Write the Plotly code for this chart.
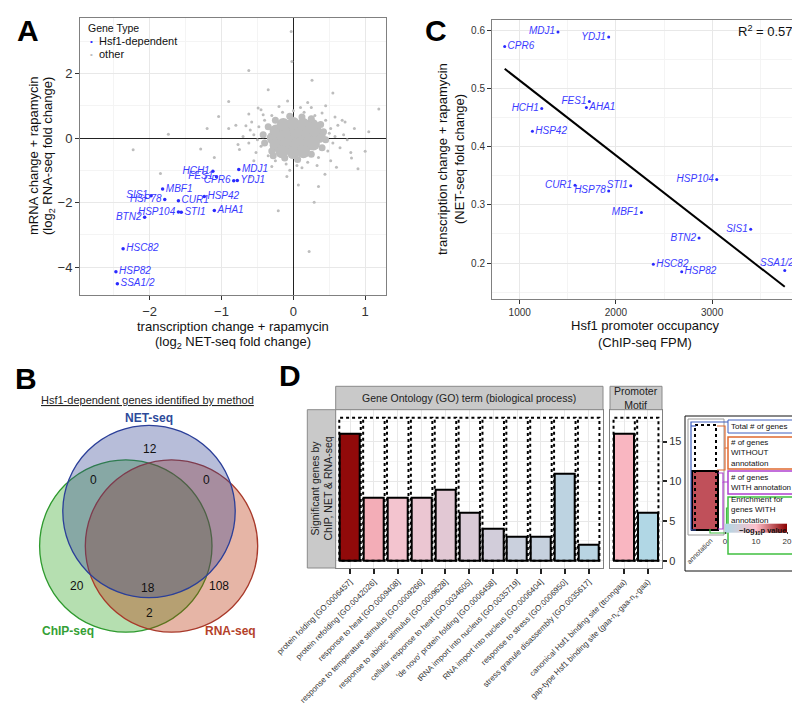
import numpy as np
import plotly.graph_objects as go

FONT = "Liberation Sans, Arial, Helvetica, sans-serif"
W, H = 800, 722

# ------------------------------------------------------------------ data
# Panel A : Hsf1-dependent genes (log2 NET-seq FC, log2 RNA-seq FC)
a_genes = ["MDJ1", "YDJ1", "CPR6", "HCH1", "FES1", "MBF1", "SIS1", "HSP78", "CUR1",
           "HSP42", "AHA1", "HSP104", "STI1", "BTN2", "HSC82", "HSP82", "SSA1/2"]
a_net = [-0.76, -0.78, -0.83, -1.12, -1.07, -1.82, -1.98, -1.79, -1.60,
         -1.24, -1.10, -1.60, -1.56, -2.07, -2.37, -2.47, -2.45]
a_rna = [-0.97, -1.31, -1.32, -1.03, -1.20, -1.58, -1.79, -1.90, -1.94,
         -1.81, -2.24, -2.29, -2.30, -2.45, -3.43, -4.14, -4.51]

# Panel A : other genes (dense core, rim, sparse halo and outliers; read approximately)
other_core_x = [-0.28, -0.14, 0.00, 0.14, 0.28, 0.36, -0.24, -0.10, 0.04, 0.18, 0.30,
                -0.24, -0.10, 0.04, 0.18, 0.28, -0.14, 0.00, 0.14, 0.26, -0.16, 0.00, 0.14]
other_core_y = [0.00, 0.00, 0.00, 0.00, 0.00, 0.05, 0.22, 0.22, 0.22, 0.22, 0.25,
                -0.22, -0.22, -0.22, -0.22, -0.18, 0.42, 0.45, 0.42, 0.40, -0.42, -0.45, -0.42]
other_rim_x = [-0.42, -0.40, -0.35, -0.30, 0.42, 0.45, 0.40, 0.38, -0.05, 0.12, -0.12,
               0.06, 0.25, -0.25, 0.25, -0.28]
other_rim_y = [0.10, -0.15, 0.35, -0.40, 0.20, -0.05, -0.30, 0.42, 0.68, 0.65, -0.62,
               -0.66, -0.50, 0.55, 0.60, -0.55]
other_halo_x = [-0.55, -0.48, -0.45, -0.50, -0.40, -0.35, -0.30, -0.25, -0.15, -0.10, 0.00,
                0.05, 0.15, 0.20, 0.30, 0.35, 0.45, 0.48, 0.52, 0.55, 0.58, 0.50, -0.60,
                -0.62, -0.42, 0.40, 0.62, 0.65, -0.58, -0.52, 0.10, -0.05, 0.25, -0.20,
                0.70, -0.70, 0.33, -0.30, 0.58, -0.45, 0.75, -0.66, 0.12, 0.68, -0.55,
                0.52, 0.85, -0.80, 0.80, -0.75, 0.20, -0.08, 0.45, 0.60, -0.62]
other_halo_y = [0.10, 0.35, -0.25, -0.05, 0.55, -0.55, 0.70, -0.70, 0.80, -0.80, 0.85,
                -0.85, 0.80, -0.75, 0.70, -0.60, 0.55, -0.40, 0.30, -0.15, 0.05, 0.15, 0.25,
                -0.15, 0.72, 0.78, 0.40, -0.30, 0.50, -0.45, 0.95, -1.00, 0.95, 0.98,
                0.10, 0.05, -0.85, -0.88, 0.65, 0.88, -0.05, 0.38, -0.92, 0.55, -0.70,
                -0.70, 0.30, 0.40, -0.45, -0.35, 1.10, 1.15, 1.00, -0.90, 0.75]
other_out_x = [-0.03, -0.02, -0.62, 0.26, -1.04, -1.74, -1.85, -2.23, -0.21, 0.22, -0.90,
               -1.29, 0.29, 1.00, 0.81, 0.72, 1.19, -0.77, -0.90, -0.49, -0.09, 0.07,
               0.44, 0.90, -1.20, 0.55, -0.35, 1.05, -1.10, 0.35, -0.60]
other_out_y = [3.30, 2.37, 2.09, 1.79, 0.67, 0.12, -1.10, -0.36, -2.25, -3.51, 1.13,
               -0.34, -1.99, -0.41, -0.62, 0.50, 0.90, -0.20, 0.30, 0.93, -1.19, -1.45,
               -1.12, -0.95, 0.30, 1.40, 1.50, 0.20, -0.60, -1.50, -1.20]

# Panel C : Hsf1 ChIP-seq FPM vs NET-seq fold change
c_genes = ["MDJ1", "YDJ1", "CPR6", "FES1", "AHA1", "HCH1", "HSP42", "HSP104", "CUR1",
           "STI1", "HSP78", "MBF1", "SIS1", "BTN2", "HSC82", "HSP82", "SSA1/2"]
c_chip = [1398, 1925, 844, 1724, 1693, 1229, 1132, 3048, 1575,
          2154, 1925, 2265, 3401, 2864, 2389, 2684, 3755]
c_net = [0.598, 0.589, 0.573, 0.478, 0.468, 0.466, 0.427, 0.344, 0.334,
         0.333, 0.324, 0.287, 0.258, 0.243, 0.198, 0.185, 0.187]
c_r2_text = "R<sup>2</sup> = 0.57"

# Panel B : Venn counts
venn_net_only = 12
venn_net_chip = 0
venn_net_rna = 0
venn_chip_only = 20
venn_all = 18
venn_rna_only = 108
venn_chip_rna = 2

# Panel D : GO terms and promoter motifs
go_terms = ["protein folding [GO:0006457]", "protein refolding [GO:0042026]",
            "response to heat [GO:0009408]", "response to temperature stimulus [GO:0009266]",
            "response to abiotic stimulus [GO:0009628]", "cellular response to heat [GO:0034605]",
            "'de novo' protein folding [GO:0006458]", "tRNA import into nucleus [GO:0035719]",
            "RNA import into nucleus [GO:0006404]", "response to stress [GO:0006950]",
            "stress granule disassembly [GO:0035617]"]
go_with = [16, 8, 8, 8, 9, 6, 4, 3, 3, 11, 2]
go_total = [18] * 11
go_logp = [19.5, 11, 8.5, 7.5, 6.5, 5.5, 4.5, 3.5, 3, 2, 1.5]

motif_terms = ["canonical Hsf1 binding site (ttcnngaa)",
               "gap-type Hsf1 binding site (gaa-n<sub>x</sub>-gaa-n<sub>x</sub>-gaa)"]
motif_with = [16, 6]
motif_total = [18, 18]
motif_logp = [10.5, 0.5]

# ------------------------------------------------------------------ styles
BLUE = "#2a2aff"
LBLUE = "#3b3bff"
GRAY = "#bdbdbd"
A_POS = {"MDJ1": "middle right", "YDJ1": "middle right", "CPR6": "middle left",
         "HCH1": "middle left", "FES1": "middle left", "MBF1": "middle right",
         "SIS1": "middle left", "HSP78": "middle left", "CUR1": "middle right",
         "HSP42": "middle right", "AHA1": "middle right", "HSP104": "middle left",
         "STI1": "middle right", "BTN2": "middle left", "HSC82": "middle right",
         "HSP82": "middle right", "SSA1/2": "middle right"}
C_POS = {"MDJ1": "middle left", "YDJ1": "middle left", "CPR6": "middle right",
         "FES1": "middle left", "AHA1": "middle right", "HCH1": "middle left",
         "HSP42": "middle right", "HSP104": "middle left", "CUR1": "middle left",
         "STI1": "middle left", "HSP78": "middle left", "MBF1": "middle left",
         "SIS1": "middle left", "BTN2": "middle left", "HSC82": "middle right",
         "HSP82": "middle right", "SSA1/2": "top left"}
C_ANNOT = {"SSA1/2"}   # labelled separately (placed above the point)


def px(x):
    return x / W


def py(y):
    return 1 - y / H


fig = go.Figure()

# ------------------------------------------------------------------ panel A
for xs, ys, sz in [(other_core_x, other_core_y, 13), (other_rim_x, other_rim_y, 7),
                   (other_halo_x, other_halo_y, 3), (other_out_x, other_out_y, 3)]:
    fig.add_trace(go.Scatter(x=xs, y=ys, mode="markers", xaxis="x", yaxis="y",
                             marker=dict(size=sz, color=GRAY, line=dict(width=0)),
                             hoverinfo="skip", showlegend=False))
fig.add_trace(go.Scatter(x=a_net, y=a_rna, mode="markers+text", xaxis="x", yaxis="y",
                         text=a_genes, textposition=[A_POS[g] for g in a_genes],
                         textfont=dict(family=FONT, size=10, color=LBLUE, style="italic"),
                         marker=dict(size=3.5, color=BLUE), cliponaxis=False, showlegend=False))

# ------------------------------------------------------------------ panel C
fit = np.polyfit(c_chip, c_net, 1)
fx = np.array([min(c_chip), max(c_chip)])
fig.add_trace(go.Scatter(x=fx, y=np.polyval(fit, fx), mode="lines", xaxis="x2", yaxis="y2",
                         line=dict(color="black", width=2), showlegend=False))
fig.add_trace(go.Scatter(x=c_chip, y=c_net, mode="markers+text", xaxis="x2", yaxis="y2",
                         text=[("" if g in C_ANNOT else g) for g in c_genes],
                         textposition=[C_POS[g] for g in c_genes],
                         textfont=dict(family=FONT, size=10, color=LBLUE, style="italic"),
                         marker=dict(size=3, color=BLUE), cliponaxis=False, showlegend=False))

# ------------------------------------------------------------------ panel D


def dashed_boxes(totals, w):
    xs, ys = [], []
    for i, t in enumerate(totals):
        xs += [i - w / 2, i - w / 2, i + w / 2, i + w / 2, i - w / 2, None]
        ys += [0, t, t, 0, 0, None]
    return xs, ys


for xa, ya, tot, vals, lp in [("x3", "y3", go_total, go_with, go_logp),
                              ("x4", "y4", motif_total, motif_with, motif_logp)]:
    bx, by = dashed_boxes(tot, 0.9)
    fig.add_trace(go.Scatter(x=bx, y=by, mode="lines", xaxis=xa, yaxis=ya,
                             line=dict(color="black", width=2, dash="3px,3px"),
                             hoverinfo="skip", showlegend=False))
    fig.add_trace(go.Bar(x=list(range(len(vals))), y=vals, width=0.84, xaxis=xa, yaxis=ya,
                         marker=dict(color=lp, coloraxis="coloraxis",
                                     line=dict(color="black", width=2)),
                         showlegend=False))

# ------------------------------------------------------------------ axes
TICKF = dict(family=FONT, color="#333")


def frame_axis(**kw):
    d = dict(showline=True, linecolor="#808080", linewidth=1, mirror=True,
             ticks="outside", ticklen=4, tickcolor="#333", tickwidth=1,
             showgrid=True, gridcolor="#e8e8e8", gridwidth=1, zeroline=False,
             automargin=False, fixedrange=True)
    d.update(kw)
    return d


fig.update_layout(
    xaxis=frame_axis(domain=[px(72), px(378)], range=[-2.97, 1.29], anchor="y",
                     tickvals=[-2, -1, 0, 1], tickfont=dict(size=13, **TICKF),
                     zeroline=True, zerolinecolor="#222", zerolinewidth=1,
                     minor=dict(tickvals=[-2.5, -1.5, -0.5, 0.5], showgrid=True,
                                gridcolor="#f4f4f4", ticks="")),
    yaxis=frame_axis(domain=[py(287.3), py(10)], range=[-4.87, 3.72], anchor="x",
                     tickvals=[-4, -2, 0, 2], tickfont=dict(size=13, **TICKF),
                     zeroline=True, zerolinecolor="#222", zerolinewidth=1,
                     minor=dict(tickvals=[-3, -1, 1, 3], showgrid=True,
                                gridcolor="#f4f4f4", ticks="")),
    xaxis2=frame_axis(domain=[px(484), px(791)], range=[712, 3903], anchor="y2",
                      tickvals=[1000, 2000, 3000], tickfont=dict(size=10, **TICKF),
                      minor=dict(tickvals=[1500, 2500, 3500], showgrid=True,
                                 gridcolor="#f4f4f4", ticks="")),
    yaxis2=frame_axis(domain=[py(291), py(11.7)], range=[0.138, 0.619], anchor="x2",
                      tickvals=[0.2, 0.3, 0.4, 0.5, 0.6], tickformat=".1f",
                      tickfont=dict(size=10, **TICKF),
                      minor=dict(tickvals=[0.15, 0.25, 0.35, 0.45, 0.55], showgrid=True,
                                 gridcolor="#f4f4f4", ticks="")),
    xaxis3=frame_axis(domain=[px(327.7), px(595)], range=[-0.6, 10.6], anchor="y3",
                      tickvals=list(range(len(go_terms))), ticktext=go_terms, tickangle=-45,
                      tickfont=dict(size=8, **TICKF), ticklen=5, tickwidth=2, tickcolor="#222"),
    yaxis3=frame_axis(domain=[py(560), py(401.7)], range=[-0.9, 19], anchor="x3",
                      tickvals=[0, 5, 10, 15], showticklabels=False, ticks="",
                      minor=dict(tickvals=[2.5, 7.5, 12.5, 17.5], showgrid=True,
                                 gridcolor="#f4f4f4", ticks="")),
    xaxis4=frame_axis(domain=[px(602), px(654)], range=[-0.6, 1.6], anchor="y4",
                      tickvals=list(range(len(motif_terms))), ticktext=motif_terms,
                      tickangle=-45, tickfont=dict(size=8, **TICKF), ticklen=5,
                      tickwidth=2, tickcolor="#222"),
    yaxis4=frame_axis(domain=[py(560), py(401.7)], range=[-0.9, 19], anchor="x4",
                      side="right", tickvals=[0, 5, 10, 15], tickfont=dict(size=11, **TICKF),
                      tickwidth=2, tickcolor="#222",
                      minor=dict(tickvals=[2.5, 7.5, 12.5, 17.5], showgrid=True,
                                 gridcolor="#f4f4f4", ticks="")),
    coloraxis=dict(cmin=0, cmax=20,
                   colorscale=[[0, "#add8e6"], [0.5, "#ffc0cb"], [1, "#8b0000"]],
                   colorbar=dict(orientation="h", x=px(748), xanchor="center",
                                 y=py(527), yanchor="middle", len=62, lenmode="pixels",
                                 thickness=9, xpad=0, ypad=0, outlinewidth=0,
                                 tickvals=[0, 10, 20], ticks="outside", ticklen=2,
                                 tickfont=dict(family=FONT, size=8, color="#333"),
                                 title=dict(text=""))),
    width=W, height=H, margin=dict(l=0, r=0, t=0, b=0),
    paper_bgcolor="white", plot_bgcolor="white", showlegend=False,
    bargap=0,
)

# ------------------------------------------------------------------ shapes & annotations
shapes = []
anns = []


def ann(x, y, text, size=11, color="#111", xa="center", ya="middle", angle=0, align="center"):
    anns.append(dict(x=px(x), y=py(y), xref="paper", yref="paper", text=text,
                     showarrow=False, xanchor=xa, yanchor=ya, textangle=angle, align=align,
                     font=dict(family=FONT, size=size, color=color)))


def rect(x0, y0, x1, y1, line="#808080", fill="rgba(0,0,0,0)", width=1, dash="solid"):
    shapes.append(dict(type="rect", xref="paper", yref="paper", x0=px(x0), x1=px(x1),
                       y0=py(y1), y1=py(y0), line=dict(color=line, width=width, dash=dash),
                       fillcolor=fill, layer="above"))


def line(pts, color, width=1.2):
    path = "M " + " L ".join(f"{px(x)},{py(y)}" for x, y in pts)
    shapes.append(dict(type="path", xref="paper", yref="paper", path=path,
                       line=dict(color=color, width=width), layer="above"))


def circle(cx, cy, r, line_c, fill):
    shapes.append(dict(type="circle", xref="paper", yref="paper",
                       x0=px(cx - r), x1=px(cx + r), y0=py(cy + r), y1=py(cy - r),
                       line=dict(color=line_c, width=1.3), fillcolor=fill, layer="above"))


# C: label placed above its point, through the data axes
for g, xv, yv in zip(c_genes, c_chip, c_net):
    if g in C_ANNOT:
        anns.append(dict(x=xv, y=yv, xref="x2", yref="y2", text=g, showarrow=False,
                         xanchor="right", yanchor="bottom", xshift=11, yshift=1,
                         font=dict(family=FONT, size=10, color=LBLUE, style="italic")))

# panel letters
ann(20, 22, "<b>A</b>", size=30, color="black")
ann(18, 370, "<b>B</b>", size=30, color="black")
ann(428, 22, "<b>C</b>", size=30, color="black")
ann(282, 367, "<b>D</b>", size=30, color="black")

# panel A titles & legend
ann(225, 318, "transcription change + rapamycin", size=13, color="#111")
ann(225, 334, "(log<sub>2</sub> NET-seq fold change)", size=13, color="#111")
ann(25, 148, "mRNA change + rapamycin", size=13, color="#111", angle=-90)
ann(40, 148, "(log<sub>2</sub> RNA-seq fold change)", size=13, color="#111", angle=-90)
ann(78, 20, "Gene Type", size=10.5, xa="left")
ann(83, 33, "•", size=8, color=BLUE)
ann(89, 33, "Hsf1-dependent", size=11, xa="left")
ann(83, 46, "•", size=8, color=GRAY)
ann(89, 46, "other", size=11, xa="left")

# panel C titles
ann(637, 317, "Hsf1 promoter occupancy", size=13, color="#111")
ann(637, 334, "(ChIP-seq FPM)", size=13, color="#111")
ann(434, 151, "transcription change + rapamycin", size=13, color="#111", angle=-90)
ann(451, 151, "(NET-seq fold change)", size=13, color="#111", angle=-90)
ann(787, 23, c_r2_text, size=13, color="#111", xa="right")

# panel B venn
circle(117.8, 538, 86.2, "#2e9a2e", "rgba(43,163,29,0.35)")
circle(163.5, 538, 86.2, "#a8392a", "rgba(183,44,1,0.35)")
circle(141, 503.5, 86.2, "#2b3f99", "rgba(49,66,146,0.35)")
ann(139, 392, "<u>Hsf1-dependent genes identified by method</u>", size=11, color="#222")
ann(141, 410, "<b>NET-seq</b>", size=12, color="#2e4a9a")
ann(60, 623, "<b>ChIP-seq</b>", size=12, color="#35a035")
ann(222, 623, "<b>RNA-seq</b>", size=12, color="#b4412a")
ann(141.5, 441, str(venn_net_only), size=12)
ann(85, 472, str(venn_net_chip), size=12)
ann(198, 472, str(venn_net_rna), size=12)
ann(69, 578, str(venn_chip_only), size=12)
ann(140, 580, str(venn_all), size=12)
ann(211, 578, str(venn_rna_only), size=12)
ann(141, 605, str(venn_chip_rna), size=12)

# panel D strips
STRIP = "#c9c9c9"
rect(327.7, 378.3, 595, 401.7, line="#8a8a8a", fill=STRIP)
rect(602, 378.3, 654, 401.7, line="#8a8a8a", fill=STRIP)
rect(299.3, 401.7, 327.7, 560, line="#8a8a8a", fill=STRIP)
ann(461, 390, "Gene Ontology (GO) term (biological process)", size=10.5, color="#222")
ann(628, 390, "Promoter<br>Motif", size=10.5, color="#222")
ann(313.5, 481, "Significant genes by<br>ChIP, NET & RNA-seq", size=10.5, color="#222", angle=-90)

# panel D explanatory legend
rect(677, 408, 797, 563, line="#111", width=1)
rect(680, 411, 716, 527, line="#9a9a9a", fill="white")
rect(684, 463, 710, 522, line="black", fill="#c0505a", width=2)
rect(687, 417, 708, 522, line="black", width=2, dash="3px,3px")
ann(691, 543, "annotation", size=7, color="#333", angle=-45)
rect(720, 412, 788, 425, line="#4060c0")
rect(720, 429, 788, 461, line="#e06a30", width=1.5)
rect(720, 463, 788, 486, line="#b040d0", width=1.5)
rect(720, 489, 788, 546, line="#40c040", width=1.5)
ann(721, 418.5, "Total # of genes", size=8, xa="left")
ann(721, 445, "# of genes<br>WITHOUT<br>annotation", size=8, xa="left", align="left")
ann(721, 474.5, "# of genes<br>WITH annotation", size=8, xa="left", align="left")
ann(721, 502, "Enrichment for<br>genes WITH<br>annotation", size=8, xa="left", align="left")
ann(754, 523, "<b>−log<sub>10</sub>p value</b>", size=7.5, color="#111")
# brackets
line([(720, 414), (683, 414), (683, 522), (688, 522)], "#4060c0")
line([(683, 418), (688, 418)], "#4060c0")
line([(720, 440), (717, 440), (717, 418), (709, 418)], "#e06a30")
line([(717, 440), (717, 462), (709, 462)], "#e06a30")
line([(720, 474), (715, 474), (715, 465), (710, 465)], "#b040d0")
line([(715, 474), (715, 521), (710, 521)], "#b040d0")
line([(720, 500), (718.5, 500), (718.5, 525), (702, 525), (702, 521)], "#40c040")

fig.update_layout(shapes=shapes, annotations=anns)
fig.write_html("out.html")
